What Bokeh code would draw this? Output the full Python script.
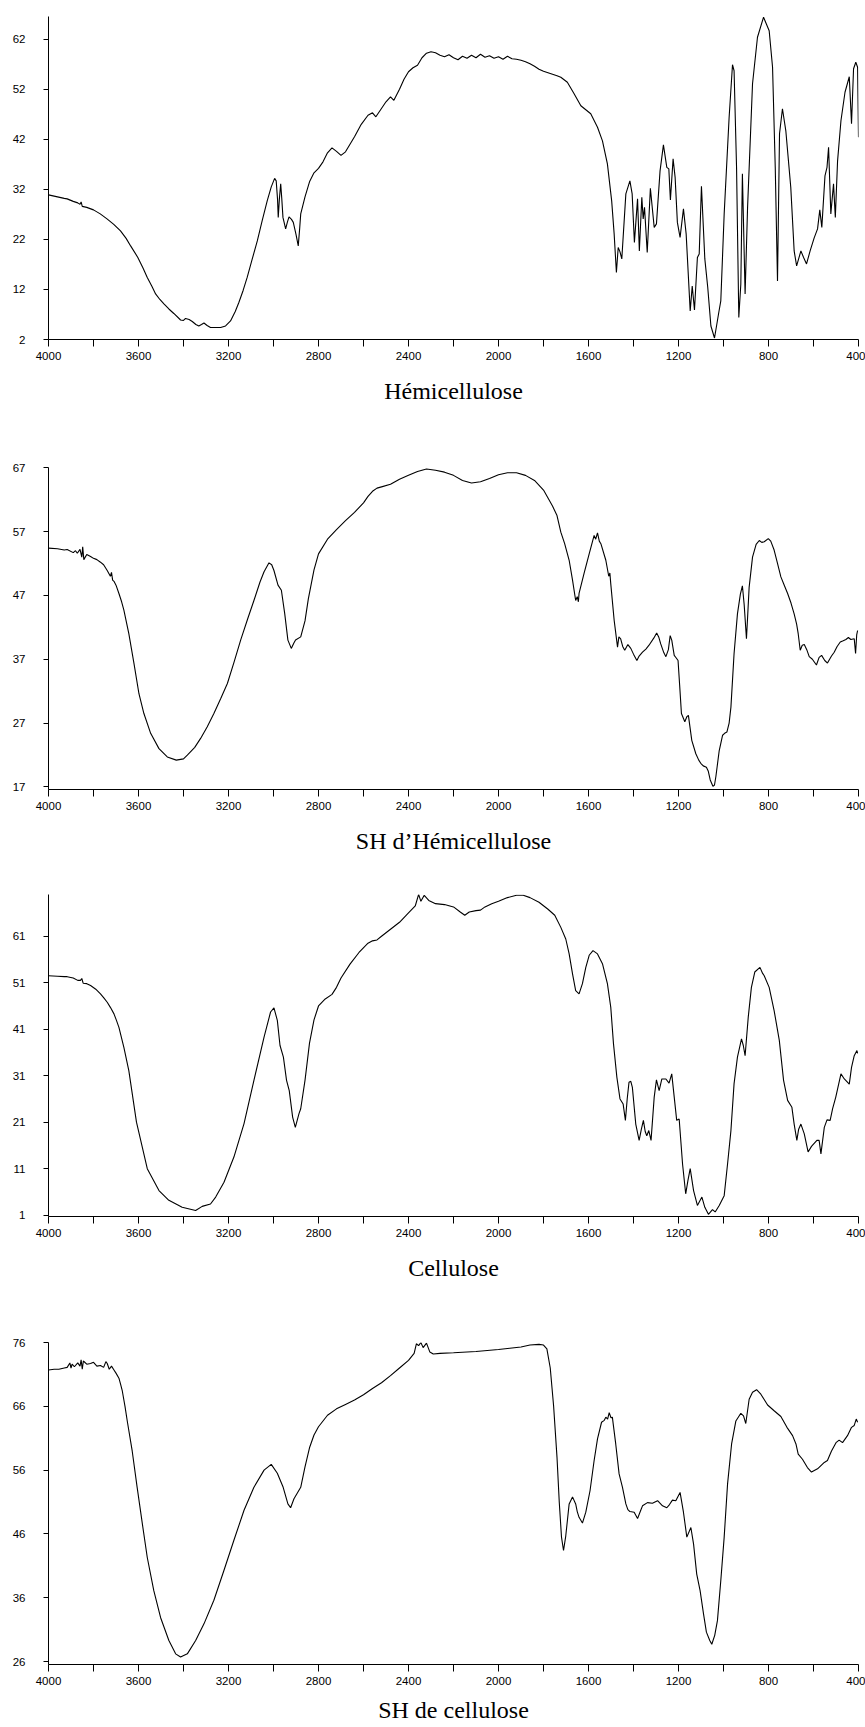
from bokeh.plotting import figure
from bokeh.layouts import column
from bokeh.models import FixedTicker, Range1d
from bokeh.embed import file_html
from bokeh.resources import INLINE

# ---------------- data (wavenumber cm-1, transmittance %) ----------------
x_major = [4000, 3600, 3200, 2800, 2400, 2000, 1600, 1200, 800, 400]
x_minor = [3800, 3400, 3000, 2600, 2200, 1800, 1400, 1000, 600]

captions = ["Hémicellulose", "SH d\u2019Hémicellulose", "Cellulose", "SH de cellulose"]

hemi_yticks = [2, 12, 22, 32, 42, 52, 62]
sh_hemi_yticks = [17, 27, 37, 47, 57, 67]
cell_yticks = [1, 11, 21, 31, 41, 51, 61]
sh_cell_yticks = [26, 36, 46, 56, 66, 76]

hemi = [
    (4000, 30.9), (3960, 30.5), (3930, 30.2), (3917, 30.1), (3890, 29.6), (3870, 29.3),
    (3860, 29.0), (3855, 29.5), (3850, 28.6), (3830, 28.4), (3800, 27.9), (3770, 27.1),
    (3740, 26.1), (3710, 25.0), (3680, 23.7), (3655, 22.2), (3635, 20.7), (3603, 18.4),
    (3580, 16.3), (3561, 14.4), (3540, 12.6), (3524, 11.1), (3505, 10.0), (3487, 9.1),
    (3465, 8.1), (3443, 7.2), (3413, 5.9), (3400, 5.8), (3391, 6.2), (3375, 6.0),
    (3361, 5.6), (3345, 5.0), (3332, 4.7), (3320, 5.0), (3309, 5.3), (3295, 4.8),
    (3280, 4.4), (3260, 4.4), (3235, 4.4), (3213, 4.7), (3191, 5.7), (3170, 7.6),
    (3154, 9.4), (3135, 11.8), (3117, 14.4), (3095, 18.0), (3072, 21.7), (3050, 25.8),
    (3028, 29.7), (3010, 32.5), (2995, 34.2), (2988, 33.7), (2982, 30.0), (2979, 26.4),
    (2974, 30.0), (2968, 33.1), (2963, 30.0), (2958, 26.4), (2946, 24.1), (2938, 25.5),
    (2931, 26.5), (2920, 26.0), (2912, 25.4), (2900, 23.0), (2890, 20.7), (2884, 24.0),
    (2879, 27.1), (2860, 30.5), (2840, 33.5), (2820, 35.3), (2800, 36.2), (2780, 37.5),
    (2760, 39.3), (2740, 40.3), (2720, 39.6), (2700, 38.8), (2680, 39.5), (2660, 41.0),
    (2640, 42.5), (2610, 45.0), (2580, 46.8), (2560, 47.3), (2545, 46.5), (2530, 47.5),
    (2500, 49.5), (2480, 50.5), (2465, 49.8), (2440, 52.0), (2420, 54.0), (2400, 55.5),
    (2380, 56.3), (2360, 56.8), (2340, 58.3), (2320, 59.2), (2300, 59.5), (2280, 59.3),
    (2260, 58.8), (2240, 58.5), (2220, 58.9), (2200, 58.3), (2180, 57.9), (2160, 58.6),
    (2140, 58.2), (2120, 58.8), (2100, 58.3), (2080, 59.0), (2060, 58.4), (2040, 58.7),
    (2020, 58.2), (2000, 58.5), (1980, 58.0), (1960, 58.6), (1940, 58.1), (1920, 58.0),
    (1900, 57.8), (1880, 57.5), (1860, 57.1), (1840, 56.6), (1820, 56.0), (1800, 55.6),
    (1780, 55.3), (1760, 55.0), (1740, 54.7), (1723, 54.4), (1694, 53.4), (1664, 51.1),
    (1634, 48.7), (1590, 47.1), (1560, 44.4), (1538, 41.7), (1516, 37.1), (1497, 29.7),
    (1486, 23.1), (1476, 15.4), (1468, 20.4), (1460, 19.5), (1452, 18.1), (1434, 31.1),
    (1416, 33.7), (1406, 31.1), (1396, 21.4), (1382, 30.1), (1374, 19.7), (1363, 30.4),
    (1357, 26.1), (1351, 28.4), (1339, 19.4), (1325, 32.2), (1308, 24.4), (1298, 25.1),
    (1282, 35.7), (1267, 40.9), (1252, 36.4), (1243, 36.1), (1236, 29.9), (1224, 38.1),
    (1215, 34.4), (1205, 25.4), (1193, 22.4), (1178, 28.1), (1166, 23.1), (1148, 7.7),
    (1139, 12.7), (1129, 7.9), (1116, 18.4), (1108, 19.1), (1098, 32.6), (1083, 18.1),
    (1070, 12.4), (1056, 4.7), (1040, 2.3), (1031, 4.7), (1021, 7.4), (1012, 9.7),
    (997, 27.1), (975, 46.4), (960, 56.9), (953, 55.7), (942, 36.4), (932, 6.4),
    (923, 13.1), (916, 35.1), (904, 11.1), (893, 28.4), (871, 53.1), (849, 62.4),
    (822, 66.4), (797, 63.7), (782, 56.4), (770, 36.4), (760, 13.7), (751, 43.1),
    (738, 48.1), (723, 43.7), (701, 32.4), (686, 19.7), (675, 16.7), (656, 19.7),
    (644, 18.4), (631, 17.1), (615, 19.7), (597, 22.3), (582, 24.1), (572, 27.9),
    (563, 24.4), (549, 34.7), (540, 36.4), (533, 40.4), (523, 27.1), (511, 33.1),
    (503, 26.4), (493, 37.7), (478, 45.7), (460, 51.4), (441, 54.5), (431, 45.1),
    (422, 56.1), (412, 57.4), (404, 56.4), (400, 42.4),
]

sh_hemi = [
    (4000, 54.4), (3960, 54.3), (3930, 54.1), (3917, 54.2), (3890, 53.7), (3880, 54.0),
    (3872, 53.6), (3860, 54.2), (3852, 53.0), (3848, 54.6), (3843, 52.6), (3830, 53.4),
    (3813, 53.1), (3800, 52.8), (3785, 52.6), (3769, 52.2), (3755, 51.8), (3739, 50.9),
    (3725, 50.0), (3720, 50.6), (3715, 49.4), (3709, 49.2), (3700, 48.6), (3687, 47.3),
    (3675, 46.0), (3665, 44.7), (3643, 41.0), (3620, 36.3), (3598, 31.6), (3576, 28.5),
    (3546, 25.4), (3509, 23.0), (3472, 21.7), (3432, 21.2), (3400, 21.4), (3383, 22.0),
    (3350, 23.2), (3324, 24.6), (3295, 26.4), (3265, 28.5), (3235, 30.8), (3205, 33.2),
    (3175, 36.6), (3146, 40.0), (3115, 43.3), (3087, 46.2), (3060, 49.1), (3042, 50.7),
    (3020, 52.1), (3008, 51.8), (2998, 50.9), (2980, 48.6), (2965, 47.8), (2950, 44.1),
    (2936, 40.0), (2921, 38.7), (2910, 39.5), (2902, 40.0), (2879, 40.5), (2860, 43.0),
    (2845, 46.5), (2820, 51.0), (2800, 53.5), (2760, 55.8), (2720, 57.3), (2680, 58.7),
    (2640, 60.0), (2600, 61.5), (2580, 62.5), (2560, 63.3), (2540, 63.8), (2520, 64.0),
    (2480, 64.4), (2440, 65.2), (2400, 65.8), (2360, 66.4), (2320, 66.8), (2280, 66.6),
    (2240, 66.3), (2200, 65.8), (2160, 65.0), (2120, 64.6), (2080, 64.8), (2040, 65.3),
    (2000, 65.9), (1960, 66.2), (1920, 66.2), (1880, 65.8), (1840, 65.0), (1800, 63.5),
    (1760, 61.0), (1740, 59.5), (1723, 56.9), (1706, 55.1), (1686, 52.5), (1671, 49.4),
    (1657, 46.2), (1650, 46.8), (1645, 46.0), (1642, 47.3), (1620, 50.4), (1597, 53.5),
    (1575, 56.4), (1568, 55.8), (1560, 56.8), (1552, 55.5), (1545, 55.1), (1523, 52.5),
    (1510, 50.0), (1505, 50.5), (1501, 48.8), (1486, 43.1), (1471, 38.9), (1465, 40.5),
    (1457, 40.2), (1448, 39.0), (1439, 38.4), (1425, 39.3), (1412, 38.7), (1400, 37.8),
    (1385, 36.8), (1375, 37.5), (1360, 38.1), (1345, 38.6), (1331, 39.2), (1310, 40.3),
    (1297, 41.1), (1288, 40.5), (1279, 39.4), (1265, 38.0), (1256, 37.4), (1245, 38.5),
    (1237, 40.7), (1230, 40.0), (1219, 37.6), (1210, 37.2), (1202, 36.8), (1195, 33.0),
    (1187, 28.5), (1172, 27.2), (1163, 28.0), (1156, 28.2), (1141, 24.3), (1123, 22.2),
    (1110, 21.2), (1101, 20.7), (1090, 20.3), (1076, 20.1), (1068, 19.5), (1059, 18.1),
    (1047, 17.1), (1040, 17.3), (1034, 18.6), (1019, 22.7), (1004, 25.1), (995, 25.4),
    (985, 25.6), (975, 27.0), (967, 29.5), (953, 37.9), (938, 44.1), (925, 47.2),
    (916, 48.5), (908, 45.5), (898, 40.2), (893, 43.5), (886, 48.3), (871, 53.0),
    (855, 55.0), (841, 55.6), (830, 55.3), (819, 55.4), (801, 55.9), (790, 55.5),
    (775, 54.1), (760, 52.0), (745, 49.9), (730, 48.6), (715, 47.3), (700, 45.8),
    (686, 44.1), (675, 42.5), (668, 41.0), (659, 38.4), (650, 39.2), (641, 39.3),
    (630, 38.5), (619, 37.4), (605, 37.0), (587, 36.1), (575, 37.3), (564, 37.6),
    (550, 36.8), (538, 36.4), (520, 37.5), (508, 38.1), (495, 39.0), (481, 39.7),
    (468, 39.9), (456, 40.1), (445, 40.4), (434, 40.1), (419, 40.2), (413, 37.9),
    (408, 40.8), (404, 41.5),
]

cell = [
    (4000, 52.5), (3960, 52.4), (3930, 52.3), (3917, 52.3), (3890, 52.0), (3870, 51.5),
    (3858, 51.5), (3852, 51.9), (3846, 50.9), (3830, 50.8), (3813, 50.4), (3790, 49.6),
    (3769, 48.6), (3755, 47.8), (3739, 46.8), (3725, 45.7), (3709, 44.3), (3698, 42.9),
    (3687, 41.4), (3665, 37.1), (3643, 32.1), (3609, 21.0), (3561, 11.0), (3509, 6.3),
    (3465, 4.2), (3406, 2.7), (3346, 2.0), (3317, 2.9), (3280, 3.4), (3257, 4.9),
    (3220, 8.1), (3176, 13.5), (3131, 20.7), (3087, 30.0), (3042, 39.3), (3013, 44.7),
    (2998, 45.6), (2983, 42.9), (2971, 37.5), (2956, 35.0), (2942, 30.0), (2930, 27.8),
    (2915, 22.1), (2903, 19.9), (2887, 22.8), (2879, 23.9), (2860, 30.0), (2840, 38.0),
    (2820, 43.0), (2800, 46.0), (2770, 47.5), (2740, 48.5), (2720, 50.0), (2700, 52.0),
    (2660, 55.0), (2620, 57.5), (2580, 59.5), (2560, 60.0), (2540, 60.2), (2520, 61.0),
    (2480, 62.5), (2440, 64.0), (2400, 66.0), (2370, 67.5), (2355, 70.0), (2345, 68.5),
    (2330, 69.8), (2310, 68.7), (2280, 68.0), (2240, 67.8), (2200, 67.3), (2170, 66.2),
    (2150, 65.5), (2130, 66.2), (2100, 66.5), (2080, 66.6), (2060, 67.3), (2030, 68.0),
    (2000, 68.5), (1960, 69.3), (1920, 69.8), (1890, 69.8), (1860, 69.3), (1820, 68.3),
    (1780, 66.8), (1750, 65.5), (1723, 62.9), (1701, 60.4), (1686, 57.2), (1671, 52.9),
    (1657, 49.3), (1642, 48.6), (1627, 50.8), (1612, 54.3), (1597, 56.9), (1580, 57.9),
    (1560, 57.2), (1538, 55.1), (1516, 50.8), (1501, 45.7), (1489, 37.9), (1474, 30.7),
    (1460, 26.0), (1446, 24.9), (1436, 21.4), (1428, 26.0), (1420, 29.6), (1412, 29.8),
    (1405, 28.5), (1390, 20.6), (1375, 17.1), (1365, 19.5), (1356, 21.4), (1348, 19.0),
    (1341, 18.1), (1332, 19.2), (1322, 17.1), (1308, 26.4), (1298, 30.1), (1286, 27.8),
    (1274, 30.3), (1256, 30.3), (1242, 29.4), (1230, 31.4), (1219, 26.4), (1208, 21.4),
    (1197, 21.7), (1182, 12.0), (1168, 5.6), (1158, 8.5), (1148, 11.0), (1133, 6.3),
    (1116, 3.1), (1096, 4.9), (1083, 2.7), (1067, 1.2), (1049, 2.2), (1037, 1.7),
    (1019, 3.1), (997, 5.2), (982, 12.0), (967, 19.2), (953, 29.3), (938, 35.0),
    (920, 38.9), (912, 37.5), (904, 35.3), (890, 43.6), (876, 50.0), (861, 53.3),
    (838, 54.3), (826, 53.0), (819, 52.5), (797, 50.0), (775, 45.0), (752, 38.6),
    (733, 30.0), (715, 25.7), (696, 24.2), (686, 20.6), (674, 17.1), (666, 19.5),
    (656, 20.6), (641, 18.5), (624, 14.6), (609, 15.8), (585, 17.1), (575, 17.1),
    (567, 14.2), (552, 19.9), (540, 21.5), (526, 21.4), (515, 23.9), (501, 26.4),
    (478, 31.4), (463, 30.3), (441, 29.2), (431, 32.8), (419, 35.3), (407, 36.4),
    (404, 35.8),
]

sh_cell = [
    (4000, 71.7), (3975, 71.8), (3954, 71.8), (3930, 72.0), (3917, 72.1), (3905, 72.8),
    (3900, 72.0), (3895, 72.6), (3885, 72.2), (3870, 72.8), (3860, 72.3), (3855, 73.3),
    (3850, 71.8), (3845, 73.1), (3830, 72.6), (3813, 72.7), (3800, 72.9), (3785, 72.3),
    (3769, 72.4), (3755, 72.1), (3745, 73.0), (3739, 72.7), (3730, 71.8), (3720, 72.3),
    (3709, 71.7), (3700, 71.2), (3687, 70.4), (3680, 69.5), (3672, 68.4), (3660, 66.0),
    (3650, 63.7), (3628, 59.0), (3606, 53.3), (3583, 47.6), (3561, 42.3), (3532, 37.1),
    (3502, 32.9), (3465, 29.3), (3435, 27.2), (3413, 26.7), (3383, 27.2), (3346, 29.3),
    (3309, 31.9), (3265, 35.6), (3220, 40.3), (3176, 45.0), (3131, 49.7), (3087, 53.3),
    (3042, 56.0), (3010, 56.9), (2983, 55.5), (2957, 53.3), (2936, 50.7), (2924, 50.1),
    (2909, 51.5), (2879, 53.3), (2860, 56.5), (2840, 59.5), (2820, 61.5), (2800, 62.8),
    (2760, 64.6), (2720, 65.6), (2680, 66.3), (2640, 67.0), (2600, 67.8), (2560, 68.8),
    (2520, 69.7), (2480, 70.8), (2440, 72.0), (2400, 73.2), (2375, 74.3), (2365, 75.8),
    (2355, 75.5), (2345, 76.0), (2335, 75.2), (2320, 75.9), (2305, 74.5), (2290, 74.2),
    (2260, 74.3), (2200, 74.4), (2100, 74.6), (2000, 74.9), (1950, 75.1), (1900, 75.3),
    (1860, 75.6), (1820, 75.7), (1800, 75.6), (1785, 75.0), (1770, 72.0), (1755, 66.0),
    (1740, 58.0), (1730, 51.0), (1720, 45.5), (1711, 43.4), (1701, 45.7), (1686, 50.7),
    (1671, 51.8), (1657, 50.7), (1650, 49.5), (1642, 48.6), (1627, 47.7), (1612, 49.4),
    (1593, 52.8), (1575, 57.5), (1560, 60.9), (1542, 63.5), (1530, 63.8), (1523, 64.3),
    (1515, 64.0), (1508, 65.0), (1500, 64.2), (1494, 64.3), (1479, 60.1), (1464, 55.4),
    (1449, 53.3), (1434, 50.7), (1425, 49.8), (1416, 49.5), (1397, 49.4), (1382, 48.4),
    (1370, 49.5), (1360, 50.4), (1338, 50.9), (1316, 50.8), (1293, 51.2), (1271, 50.4),
    (1252, 50.1), (1240, 50.6), (1227, 51.3), (1212, 51.2), (1193, 52.5), (1178, 49.4),
    (1163, 45.5), (1145, 47.0), (1133, 44.4), (1119, 39.7), (1104, 37.1), (1089, 33.5),
    (1076, 30.6), (1061, 29.3), (1052, 28.7), (1039, 30.1), (1027, 32.4), (1012, 38.7),
    (997, 45.5), (982, 53.8), (964, 60.1), (945, 63.7), (923, 64.9), (911, 64.5),
    (901, 63.3), (886, 67.1), (871, 68.2), (853, 68.6), (834, 67.9), (804, 66.2),
    (775, 65.3), (745, 64.4), (718, 62.7), (693, 61.4), (678, 60.1), (668, 58.5),
    (649, 57.7), (627, 56.4), (609, 55.7), (582, 56.2), (552, 57.2), (538, 57.5),
    (520, 59.0), (500, 60.3), (486, 60.7), (471, 60.3), (449, 61.4), (431, 62.7),
    (419, 63.0), (410, 64.0), (404, 63.5),
]

# ---------------- panels ----------------
TICK_FONT = "Liberation Sans"
CAP_FONT = "Liberation Serif"


def make_panel(series, y0, y1, yticks, caption, height, top, bottom, cap_standoff):
    wn = [a for a, _ in series]
    tr = [b for _, b in series]
    p = figure(width=865, height=height, x_range=Range1d(4000, 400),
               y_range=Range1d(y0, y1), output_backend="svg", toolbar_location=None,
               min_border_left=48, min_border_right=7, min_border_top=top,
               min_border_bottom=bottom)
    p.line(wn, tr, line_color="black", line_width=1.1)
    p.grid.visible = False
    p.outline_line_color = None
    p.background_fill_color = "white"
    p.border_fill_color = "white"

    xa = p.xaxis[0]
    xa.ticker = FixedTicker(ticks=x_major, minor_ticks=x_minor)
    xa.major_tick_in = 0
    xa.major_tick_out = 7
    xa.minor_tick_in = 0
    xa.minor_tick_out = 7
    xa.minor_tick_line_color = "black"
    xa.major_label_standoff = 5
    xa.axis_label = caption
    xa.axis_label_text_font = CAP_FONT
    xa.axis_label_text_font_size = "24px"
    xa.axis_label_text_font_style = "normal"
    xa.axis_label_text_color = "black"
    xa.axis_label_standoff = cap_standoff

    ya = p.yaxis[0]
    ya.ticker = FixedTicker(ticks=yticks)
    ya.major_tick_in = 0
    ya.major_tick_out = 5
    ya.minor_tick_line_color = None
    ya.major_label_standoff = 18

    for ax in (xa, ya):
        ax.axis_line_color = "black"
        ax.axis_line_width = 1
        ax.major_tick_line_color = "black"
        ax.major_label_text_font = TICK_FONT
        ax.major_label_text_font_size = "11.5px"
        ax.major_label_text_color = "black"
    return p


p1 = make_panel(hemi, 2, 66.54, hemi_yticks, captions[0], 430, 16, 91, 15)
p2 = make_panel(sh_hemi, 16.6, 67.03, sh_hemi_yticks, captions[1], 440, 37, 81, 15)
p3 = make_panel(cell, 0.72, 69.97, cell_yticks, captions[2], 440, 24, 94, 15)
p4 = make_panel(sh_cell, 25.53, 76.0, sh_cell_yticks, captions[3], 417, 32, 63, 9)

layout = column(p1, p2, p3, p4, spacing=0)

open("out.html", "w").write(file_html(layout, INLINE))
